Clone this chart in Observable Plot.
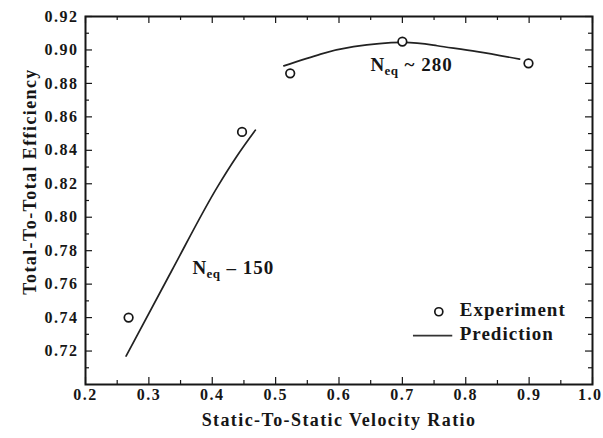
<!DOCTYPE html>
<html><head><meta charset="utf-8">
<script src="https://cdn.jsdelivr.net/npm/d3@7"></script>
<script src="https://cdn.jsdelivr.net/npm/@observablehq/plot@0.6"></script>
<style>
html,body{margin:0;padding:0;background:#fff}
</style>
</head><body><div id="chart"></div>
<script>
// ---- data ----
const expX = [0.268, 0.447, 0.523, 0.700, 0.899];
const expY = [0.740, 0.851, 0.886, 0.905, 0.892];
const pred150X = [0.264, 0.336, 0.408, 0.438, 0.468];
const pred150Y = [0.717, 0.768, 0.818, 0.836, 0.852];
const pred280X = [0.513, 0.571, 0.623, 0.700, 0.755, 0.818, 0.885];
const pred280Y = [0.8905, 0.8975, 0.9020, 0.9045, 0.9025, 0.8990, 0.8945];
const xTicks = [0.2, 0.3, 0.4, 0.5, 0.6, 0.7, 0.8, 0.9, 1.0];
const xTickLabels = ["0.2", "0.3", "0.4", "0.5", "0.6", "0.7", "0.8", "0.9", "1.0"];
const xMinorTicks = [0.25, 0.35, 0.45, 0.55, 0.65, 0.75, 0.85, 0.95];
const yTicks = [0.72, 0.74, 0.76, 0.78, 0.80, 0.82, 0.84, 0.86, 0.88, 0.90, 0.92];
const yTickLabels = ["0.72", "0.74", "0.76", "0.78", "0.80", "0.82", "0.84", "0.86", "0.88", "0.90", "0.92"];
const yMinorTicks = [0.71, 0.73, 0.75, 0.77, 0.79, 0.81, 0.83, 0.85, 0.87, 0.89, 0.91];
const xDomain = [0.2, 1.0];
const yDomain = [0.70, 0.92];
const xTitle = "Static-To-Static Velocity Ratio";
const yTitle = "Total-To-Total Efficiency";
const seriesNames = ["Experiment", "Prediction"];
const neqLabels = [{n: "N", sub: "eq", rest: "~ 280"}, {n: "N", sub: "eq", rest: "– 150"}];

// ---- build ----
const exp = expX.map((x, i) => ({x, y: expY[i]}));
const p150 = pred150X.map((x, i) => ({x, y: pred150Y[i]}));
const p280 = pred280X.map((x, i) => ({x, y: pred280Y[i]}));
const xLab = xTicks.map((x, i) => ({x, label: xTickLabels[i]}));
const xLabInner = xLab.slice(0, -1), xLabLast = xLab.slice(-1);

const W = 603, H = 438;
const mL = 85, mR = 11, mT = 16, mB = 54;
const iW = W - mL - mR, iH = H - mT - mB;
const font = "'Liberation Serif', 'Times New Roman', serif";
const ink = "#161616";
const txt = {fontFamily: font, fontWeight: "bold", fill: ink};

const major = 7, minor = 4;
const tickMarks = [];
for (const [vals, len] of [[xTicks, major], [xMinorTicks, minor]]) {
  tickMarks.push(Plot.ruleX(vals, {x: d => d, insetTop: iH - len, stroke: ink, strokeWidth: 1.2}));
  tickMarks.push(Plot.ruleX(vals, {x: d => d, insetBottom: iH - len, stroke: ink, strokeWidth: 1.2}));
}
for (const [vals, len] of [[yTicks, major], [yMinorTicks, minor]]) {
  tickMarks.push(Plot.ruleY(vals, {y: d => d, insetRight: iW - len, stroke: ink, strokeWidth: 1.2}));
  tickMarks.push(Plot.ruleY(vals, {y: d => d, insetLeft: iW - len, stroke: ink, strokeWidth: 1.2}));
}

// legend placement (data space, inside lower right)
const legX = 0.7575, legY1 = 0.7445, legY2 = 0.7300;
const n280 = {x: 0.6497, y: 0.8913}, n150 = {x: 0.3688, y: 0.7696};

const chart = Plot.plot({
  width: W, height: H,
  marginLeft: mL, marginRight: mR, marginTop: mT, marginBottom: mB,
  x: {domain: xDomain, axis: null},
  y: {domain: yDomain, axis: null},
  style: {background: "#fff", overflow: "visible"},
  marks: [
    ...tickMarks,
    Plot.frame({stroke: ink, strokeWidth: 2}),
    // tick labels
    Plot.text(xLabInner, {x: "x", frameAnchor: "bottom", dy: 15, textAnchor: "middle", text: "label", fontSize: 16, ...txt}),
    Plot.text(xLabLast, {x: "x", frameAnchor: "bottom", dy: 15, dx: 10, textAnchor: "end", text: "label", fontSize: 16, ...txt}),
    Plot.text(yTicks, {y: d => d, frameAnchor: "left", dx: -7, textAnchor: "end", text: (d, i) => yTickLabels[i],
      fontSize: 16, ...txt}),
    // axis titles
    Plot.text([xTitle], {frameAnchor: "bottom", dy: 41, textAnchor: "middle", text: d => d, fontSize: 18, ...txt}),
    Plot.text([yTitle], {frameAnchor: "left", dx: -55, dy: -19, rotate: -90, textAnchor: "middle", text: d => d, fontSize: 18, ...txt}),
    // prediction lines
    Plot.line(p150, {x: "x", y: "y", curve: "monotone-x", stroke: "#222", strokeWidth: 1.7}),
    Plot.line(p280, {x: "x", y: "y", curve: "natural", stroke: "#222", strokeWidth: 1.7}),
    // experiment
    Plot.dot(exp, {x: "x", y: "y", r: 4.3, stroke: ink, strokeWidth: 1.7, fill: "white"}),
    // annotations N_eq
    Plot.text([neqLabels[0]], {x: () => n280.x, y: () => n280.y, text: d => d.n, textAnchor: "start", fontSize: 19, ...txt}),
    Plot.text([neqLabels[0]], {x: () => n280.x, y: () => n280.y, dx: 14, dy: 6, text: d => d.sub, textAnchor: "start", fontSize: 13, ...txt}),
    Plot.text([neqLabels[0]], {x: () => n280.x, y: () => n280.y, dx: 34, text: d => d.rest, textAnchor: "start", fontSize: 19, ...txt}),
    Plot.text([neqLabels[1]], {x: () => n150.x, y: () => n150.y, text: d => d.n, textAnchor: "start", fontSize: 19, ...txt}),
    Plot.text([neqLabels[1]], {x: () => n150.x, y: () => n150.y, dx: 14, dy: 6, text: d => d.sub, textAnchor: "start", fontSize: 13, ...txt}),
    Plot.text([neqLabels[1]], {x: () => n150.x, y: () => n150.y, dx: 34, text: d => d.rest, textAnchor: "start", fontSize: 19, ...txt}),
    // legend
    Plot.dot([seriesNames[0]], {x: () => legX, y: () => legY1 - 0.001, r: 4, stroke: ink, strokeWidth: 1.7, fill: "white"}),
    Plot.ruleY([seriesNames[1]], {y: () => legY2 - 0.0008, x1: () => legX - 0.04, x2: () => legX + 0.022, stroke: "#333", strokeWidth: 1.7}),
    Plot.text(seriesNames, {x: () => legX + 0.033, y: (d, i) => i === 0 ? legY1 : legY2, text: d => d, textAnchor: "start", fontSize: 19, ...txt})
  ]
});
// letter spacing per text size (to widen the bold serif glyphs like the reference)
const spacing = {16: 1.5, 18: 1.4, 19: 1.0, 13: 0.4};
d3.select(chart).selectAll("g[font-size]").each(function () {
  const fs = +this.getAttribute("font-size");
  if (spacing[fs] != null) this.setAttribute("letter-spacing", spacing[fs]);
});
document.getElementById("chart").appendChild(chart);
</script>
</body></html>
